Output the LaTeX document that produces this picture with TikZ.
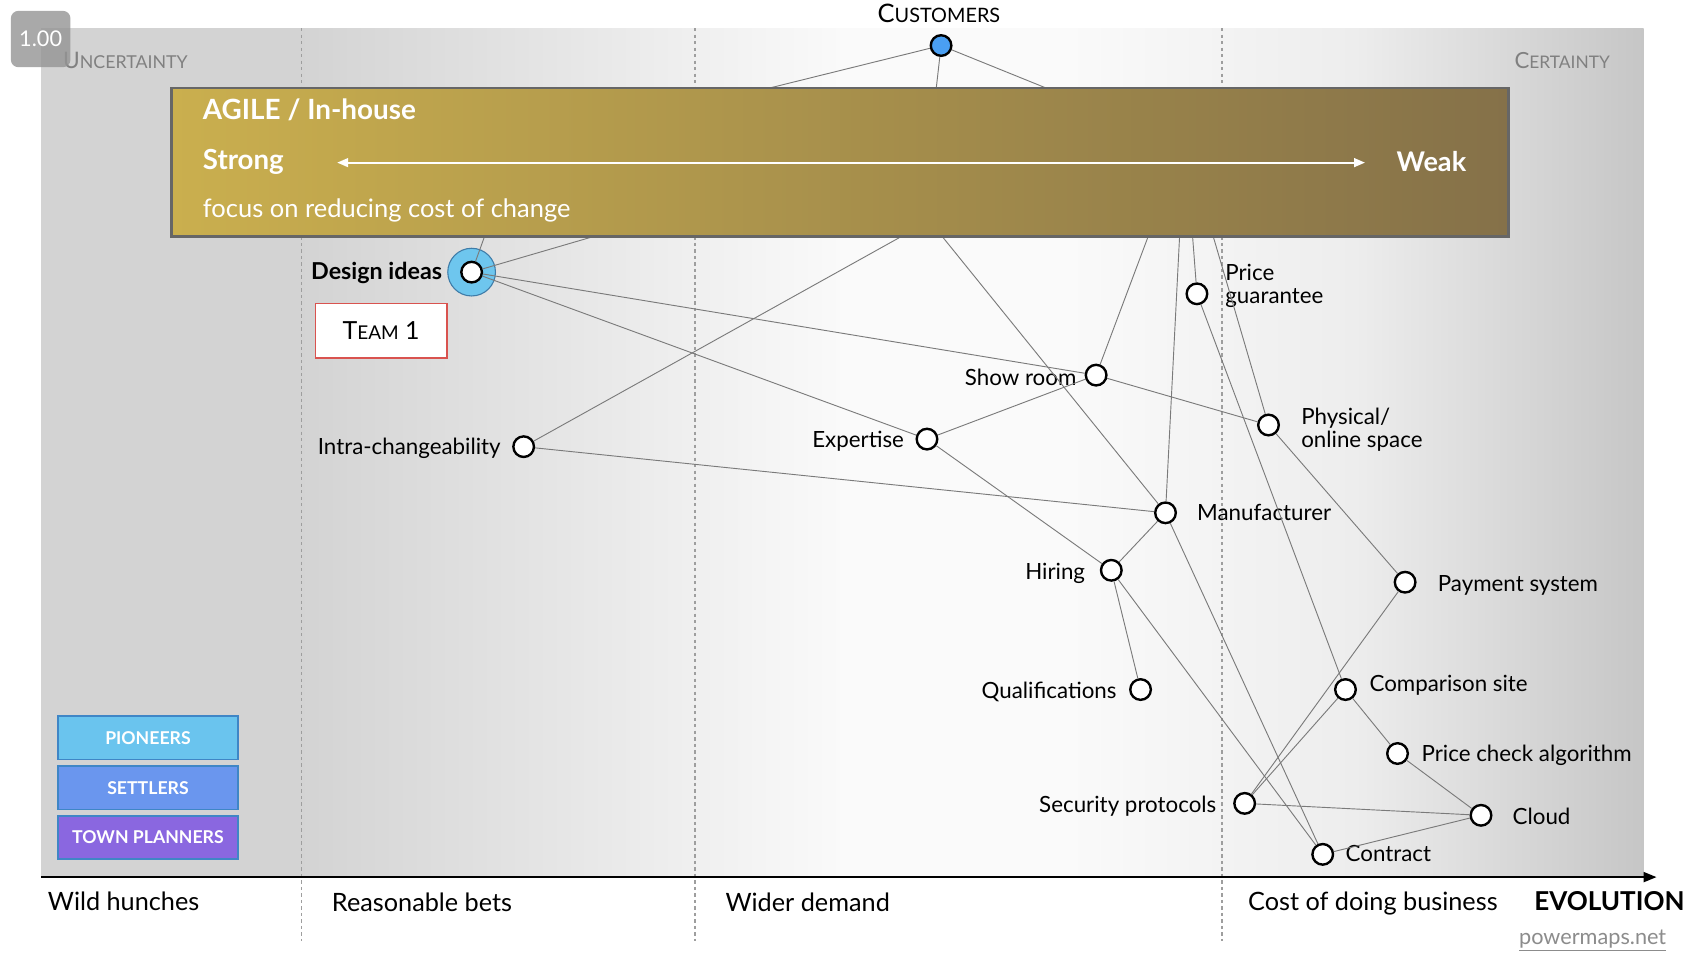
\documentclass[tikz,border=0pt]{standalone}
\usepackage{fontspec}
\setmainfont{Lato}
\usetikzlibrary{arrows.meta}
\definecolor{bgL}{HTML}{D3D3D3}
\definecolor{bgW}{HTML}{FAFAFA}
\definecolor{bgR}{HTML}{C6C6C6}
\definecolor{bgM}{HTML}{EDEDED}
\definecolor{goldL}{HTML}{CAAF4E}
\definecolor{goldR}{HTML}{857149}
\definecolor{boxedge}{HTML}{666666}
\definecolor{custblue}{HTML}{4A9FF2}
\definecolor{ringblue}{HTML}{6EC6EE}
\definecolor{ringedge}{HTML}{3F7CA8}
\definecolor{teamred}{HTML}{D9534F}
\definecolor{pioneer}{HTML}{6AC4EE}
\definecolor{settler}{HTML}{6A96EE}
\definecolor{planner}{HTML}{8A67E0}
\definecolor{roleedge}{HTML}{3F86C6}
\definecolor{dimgray}{HTML}{8C8C8C}
\pgfdeclarehorizontalshading{bgshade}{100bp}{color(0bp)=(bgL); color(25bp)=(bgL); color(33bp)=(bgL); color(50bp)=(bgW); color(57bp)=(bgW); color(66bp)=(bgM); color(75bp)=(bgR); color(100bp)=(bgR)}
\begin{document}
\begin{tikzpicture}[x=1pt,y=-1pt,
  comp/.style={circle, draw=black, line width=2.2pt, fill=white, minimum size=19pt, inner sep=0pt},
  lbl/.style={font=\fontsize{20.6}{21}\selectfont, text=black, inner sep=0pt},
  axislbl/.style={font=\fontsize{23.3}{25}\selectfont, text=black, inner sep=0pt, anchor=mid west},
  link/.style={draw=black!52, line width=0.85pt},
  divider/.style={draw=black!38, line width=1.3pt, dash pattern=on 3pt off 3pt},
  boxtxt/.style={text=white, inner sep=0pt, anchor=mid west},
  role/.style={draw=roleedge, line width=1.5pt, minimum width=166pt, minimum height=40pt, inner sep=0pt, text=white, font=\bfseries\fontsize{16.3}{17}\selectfont}
]
\useasboundingbox (0,0) rectangle (1568,885);
\fill[white] (0,0) rectangle (1568,885);
\shade[shading=bgshade] (38,26) rectangle (1516,809);

% dividers
\foreach \x in {278,641,1127} \draw[divider] (\x,26) -- (\x,868);

% axis
\coordinate (axL) at (38,809);
\coordinate (axR) at (1528,809);
\draw[line width=2.2pt, -{Triangle[length=12pt,width=9pt]}] (axL) -- (axR);
\node[axislbl] (wild) at (44,837) {Wild hunches};
\node[axislbl] (reas) at (306,838) {Reasonable bets};
\node[axislbl] (wider) at (669,838) {Wider demand};
\node[axislbl] (cost) at (1151,837) {Cost of doing business};
\node[axislbl, font=\bfseries\fontsize{24}{26}\selectfont] (evo) at (1415,837) {EVOLUTION};
\node[inner sep=0pt, anchor=mid west, text=dimgray, font=\fontsize{20}{21}\selectfont] (pm) at (1401,869) {\underline{powermaps.net}};

% certainty labels
\node[inner sep=0pt, anchor=mid west, text=black!50] (unc) at (58,61) {{\fontsize{21}{21}\selectfont U}{\fontsize{16.4}{17}\selectfont NCERTAINTY}};
\node[inner sep=0pt, anchor=mid east, text=black!50] (cer) at (1485,61) {{\fontsize{20.5}{21}\selectfont C}{\fontsize{16}{17}\selectfont ERTAINTY}};

% customers
\node[inner sep=0pt, anchor=mid, text=black] (custlbl) at (866,18) {{\fontsize{23.5}{24}\selectfont C}{\fontsize{18.3}{19}\selectfont USTOMERS}};
\node[comp, fill=custblue, minimum size=19pt] (cust) at (868,42) {};

% design ideas ring
\node[circle, fill=ringblue, draw=ringedge, line width=1pt, minimum size=44pt, inner sep=0pt] (ring) at (435,251) {};
\node[comp] (design) at (435,251) {};
\node[lbl, anchor=mid east, font=\bfseries\fontsize{21.5}{22}\selectfont] (designlbl) at (408,255) {Design ideas};

% team box
\node[draw=teamred, line width=1.5pt, fill=white, minimum width=121pt, minimum height=50pt, inner sep=0pt] (team) at (351.5,305) {{\fontsize{23}{23}\selectfont T}{\fontsize{17.5}{18}\selectfont EAM}{\fontsize{23}{23}\selectfont\ 1}};

% components
\node[comp] (price) at (1104,271) {};
\node[comp] (show) at (1011,346) {};
\node[comp] (phys) at (1170,392) {};
\node[comp] (intra) at (483,412) {};
\node[comp] (expert) at (855,405) {};
\node[comp] (manu) at (1075,473) {};
\node[comp] (hiring) at (1025,526) {};
\node[comp] (pay) at (1296,537) {};
\node[comp] (qual) at (1052,636) {};
\node[comp] (compsite) at (1241,636) {};
\node[comp] (pca) at (1289,695) {};
\node[comp] (sec) at (1148,741) {};
\node[comp] (cloud) at (1366,752) {};
\node[comp] (contract) at (1220,788) {};

% labels
\node[lbl, anchor=west, align=left] (pricelbl) at (1130,264) {Price\\guarantee};
\node[lbl, anchor=mid east] (showlbl) at (993,353) {Show room};
\node[lbl, anchor=west, align=left] (physlbl) at (1200,396) {Physical/\\online space};
\node[lbl, anchor=mid east] (intralbl) at (462,417) {Intra-changeability};
\node[lbl, anchor=mid east] (expertlbl) at (834,410) {Expertise};
\node[lbl, anchor=mid west] (manulbl) at (1104,478) {Manufacturer};
\node[lbl, anchor=mid east] (hiringlbl) at (1001,532) {Hiring};
\node[lbl, anchor=mid west] (paylbl) at (1326,543) {Payment system};
\node[lbl, anchor=mid east] (quallbl) at (1030,642) {Qualifications};
\node[lbl, anchor=mid west] (complbl) at (1263,635) {Comparison site};
\node[lbl, anchor=mid west] (pcalbl) at (1311,700) {Price check algorithm};
\node[lbl, anchor=mid east] (seclbl) at (1122,747) {Security protocols};
\node[lbl, anchor=mid west] (cloudlbl) at (1395,758) {Cloud};
\node[lbl, anchor=mid west] (contractlbl) at (1241,792) {Contract};

% hidden ends behind the box
\coordinate (hc1) at (654,95);
\coordinate (hc2) at (862,95);
\coordinate (hc3) at (999,95);
\coordinate (hd1) at (453.5,200);
\coordinate (hd2) at (609.6,200);
\coordinate (hi) at (864,200);
\coordinate (hm1) at (854.4,200);
\coordinate (hs) at (1065.8,200);
\coordinate (hm2) at (1088.9,200);
\coordinate (hp) at (1098.6,200);
\coordinate (hph) at (1113.7,200);

% links
\draw[link] (cust) -- (hc1);
\draw[link] (cust) -- (hc2);
\draw[link] (cust) -- (hc3);
\draw[link] (design) -- (hd1);
\draw[link] (design) -- (hd2);
\draw[link] (design) -- (show);
\draw[link] (design) -- (expert);
\draw[link] (intra) -- (hi);
\draw[link] (intra) -- (manu);
\draw[link] (manu) -- (hm1);
\draw[link] (manu) -- (hm2);
\draw[link] (show) -- (hs);
\draw[link] (price) -- (hp);
\draw[link] (phys) -- (hph);
\draw[link] (expert) -- (show);
\draw[link] (expert) -- (hiring);
\draw[link] (show) -- (phys);
\draw[link] (manu) -- (hiring);
\draw[link] (manu) -- (contract);
\draw[link] (hiring) -- (qual);
\draw[link] (hiring) -- (contract);
\draw[link] (price) -- (compsite);
\draw[link] (phys) -- (pay);
\draw[link] (pay) -- (sec);
\draw[link] (compsite) -- (sec);
\draw[link] (compsite) -- (pca);
\draw[link] (pca) -- (cloud);
\draw[link] (sec) -- (cloud);
\draw[link] (contract) -- (cloud);

% agile box
\node[draw=boxedge, line width=2.3pt, left color=goldL, right color=goldR, minimum width=1233pt, minimum height=137pt, inner sep=0pt, anchor=north west] (agile) at (157,80) {};
\node[boxtxt, font=\bfseries\fontsize{25.7}{27}\selectfont] (agiletitle) at (187,108) {AGILE / In-house};
\node[boxtxt, font=\bfseries\fontsize{25.5}{27}\selectfont] (strong) at (187,154) {Strong};
\node[boxtxt, font=\fontsize{23.5}{25}\selectfont] (focus) at (187,198) {focus on reducing cost of change};
\node[boxtxt, font=\bfseries\fontsize{25}{27}\selectfont] (weak) at (1288,156) {Weak};
\coordinate (arrL) at (311,150);
\coordinate (arrR) at (1259,150);
\draw[white, line width=1.8pt, {Triangle[length=10pt,width=8pt]}-{Triangle[length=10pt,width=8pt]}] (arrL) -- (arrR);

% roles
\node[role, fill=pioneer] (pio) at (136.5,680.5) {PIONEERS};
\node[role, fill=settler] (set) at (136.5,726.5) {SETTLERS};
\node[role, fill=planner] (town) at (136.5,772.5) {TOWN PLANNERS};

% badge
\node[fill=black!42, fill opacity=0.8, text opacity=1, text=white, rounded corners=7pt, minimum width=55pt, minimum height=52pt, inner sep=0pt, font=\fontsize{20}{21}\selectfont] (badge) at (37.5,36) {1.00};
\end{tikzpicture}
\end{document}
